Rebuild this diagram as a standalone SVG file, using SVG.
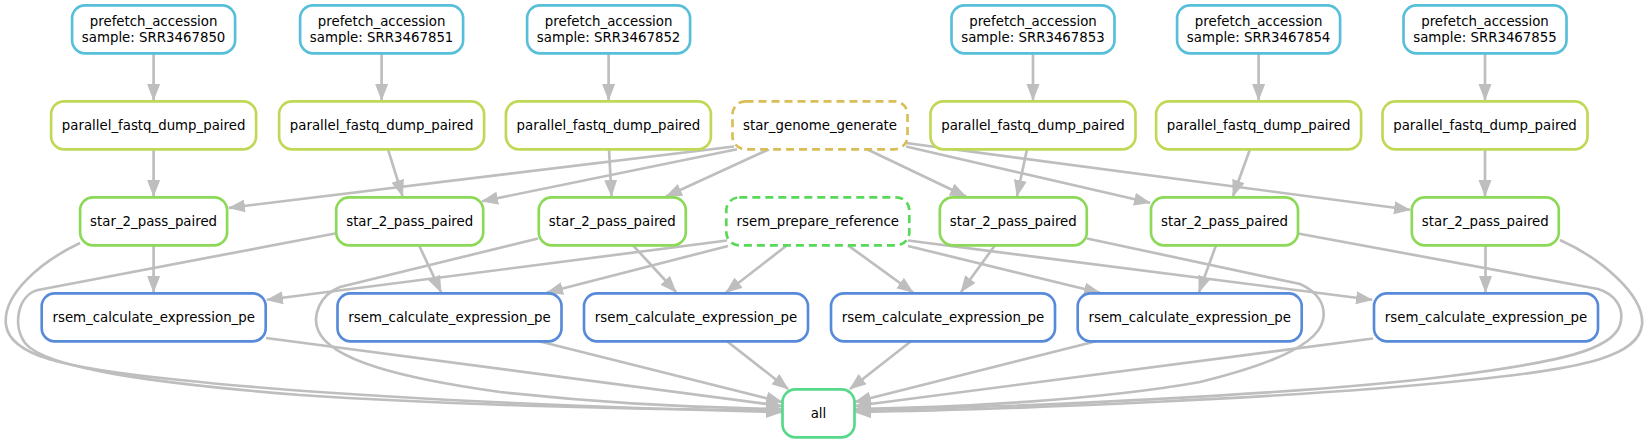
<svg xmlns="http://www.w3.org/2000/svg" width="1648" height="443" viewBox="0 0 1648 443">
<style>
.n rect{fill:#fff;stroke-width:2.67}
.n text{font-family:"DejaVu Sans","Liberation Sans",sans-serif;font-size:13.33px;fill:#000;text-anchor:middle}
.pf rect{stroke:#57BFD9}
.pd rect{stroke:#BFD957}
.sg rect{stroke:#D9BE57;stroke-dasharray:8,5}
.sp rect{stroke:#8BD957}
.rp rect{stroke:#57D957;stroke-dasharray:8,5}
.rc rect{stroke:#578BD9}
.al rect{stroke:#57D98B}
#edges path{fill:none;stroke:#bebebe;stroke-width:2.67;marker-end:url(#ah)}
</style>
<defs>
<marker id="ah" markerUnits="userSpaceOnUse" markerWidth="20" markerHeight="16" refX="16" refY="6.5" orient="auto">
<path d="M0,0 L17,6.5 L0,13 z" fill="#bebebe"/>
</marker>
</defs>
<rect width="1648" height="443" fill="#fff"/>
<g id="edges">
<!-- prefetch -> parallel -->
<path d="M153.6,53.3 L153.6,100"/>
<path d="M381.6,53.3 L381.6,100"/>
<path d="M608.6,53.3 L608.6,100"/>
<path d="M1033,53.3 L1033,100"/>
<path d="M1258.6,53.3 L1258.6,100"/>
<path d="M1485,53.3 L1485,100"/>
<!-- parallel -> star -->
<path d="M153.6,149.3 L153.6,196"/>
<path d="M388,149.3 L402.5,196"/>
<path d="M609,149.3 L611.5,196"/>
<path d="M1027,149.3 L1017,196"/>
<path d="M1250,149.3 L1233,196"/>
<path d="M1485,149.3 L1485,196"/>
<!-- star_genome -> star -->
<path d="M734,146.5 L229,207.8"/>
<path d="M737,149.3 L482,201.3"/>
<path d="M769,149.3 L666,196.5"/>
<path d="M867,149.3 L966,196.5"/>
<path d="M906,146.5 L1150,202.8"/>
<path d="M906,143 L1410,209.8"/>
<!-- star -> rsem_calc -->
<path d="M153.6,245.3 L153.6,292"/>
<path d="M419,245.3 L441,292"/>
<path d="M633,245.3 L676,292"/>
<path d="M995,245.3 L961,292"/>
<path d="M1216,245.3 L1199,292"/>
<path d="M1485.5,245.3 L1485.5,292"/>
<!-- rsem_prepare -> rsem_calc -->
<path d="M727,240.5 L267,299.8"/>
<path d="M728,246 L547,292.5"/>
<path d="M787,245.3 L726,292.5"/>
<path d="M848,245.3 L913,292.5"/>
<path d="M908,246 L1100,292.8"/>
<path d="M908,240.5 L1372,299.8"/>
<!-- rsem_calc -> all -->
<path d="M266,338 L782,406"/>
<path d="M539,341.3 L782,402"/>
<path d="M727,341.3 L788,389"/>
<path d="M911,341.3 L850,389"/>
<path d="M1096,341.3 L855,402"/>
<path d="M1373,338.5 L855,406"/>
<!-- star -> all (curves) -->
<path d="M80,243 C40,262 2,295 6,325 C10,355 60,368 180,380 C350,398 600,408 782,412"/>
<path d="M335,233.5 L38,290 C18,295 12,325 25,343 C45,368 150,383 300,395 C450,405 650,410 782,410"/>
<path d="M538,238.5 L340,287 C320,295 312,315 318,330 C330,360 400,378 500,392 C600,403 700,408 782,409"/>
<path d="M1087,238.5 L1300,284 C1318,292 1326,305 1323,320 C1318,345 1270,365 1200,382 C1100,400 950,408 855,409"/>
<path d="M1298,233.5 L1598,289 C1615,294 1625,308 1620,325 C1612,350 1560,362 1450,376 C1300,395 1000,408 855,410"/>
<path d="M1560,240 C1600,258 1645,295 1642,325 C1638,355 1590,368 1470,380 C1300,398 1000,410 855,412"/>
</g>
<g id="prefetch_1" class="n pf"><rect x="72.1" y="5.3" width="163" height="48" rx="13"/><text x="153.6" y="26">prefetch_accession</text><text x="153.6" y="42">sample: SRR3467850</text></g>
<g id="prefetch_2" class="n pf"><rect x="300.1" y="5.3" width="163" height="48" rx="13"/><text x="381.6" y="26">prefetch_accession</text><text x="381.6" y="42">sample: SRR3467851</text></g>
<g id="prefetch_3" class="n pf"><rect x="527.1" y="5.3" width="163" height="48" rx="13"/><text x="608.6" y="26">prefetch_accession</text><text x="608.6" y="42">sample: SRR3467852</text></g>
<g id="prefetch_4" class="n pf"><rect x="951.5" y="5.3" width="163" height="48" rx="13"/><text x="1033" y="26">prefetch_accession</text><text x="1033" y="42">sample: SRR3467853</text></g>
<g id="prefetch_5" class="n pf"><rect x="1177.1" y="5.3" width="163" height="48" rx="13"/><text x="1258.6" y="26">prefetch_accession</text><text x="1258.6" y="42">sample: SRR3467854</text></g>
<g id="prefetch_6" class="n pf"><rect x="1403.5" y="5.3" width="163" height="48" rx="13"/><text x="1485" y="26">prefetch_accession</text><text x="1485" y="42">sample: SRR3467855</text></g>
<g id="parallel_1" class="n pd"><rect x="51.1" y="101.3" width="205" height="48" rx="13"/><text x="153.6" y="129.9">parallel_fastq_dump_paired</text></g>
<g id="parallel_2" class="n pd"><rect x="279.1" y="101.3" width="205" height="48" rx="13"/><text x="381.6" y="129.9">parallel_fastq_dump_paired</text></g>
<g id="parallel_3" class="n pd"><rect x="505.9" y="101.3" width="205" height="48" rx="13"/><text x="608.4" y="129.9">parallel_fastq_dump_paired</text></g>
<g id="star_genome_generate" class="n sg"><rect x="732.5" y="101.3" width="175" height="48" rx="13"/><text x="820" y="129.9">star_genome_generate</text></g>
<g id="parallel_4" class="n pd"><rect x="930.5" y="101.3" width="205" height="48" rx="13"/><text x="1033" y="129.9">parallel_fastq_dump_paired</text></g>
<g id="parallel_5" class="n pd"><rect x="1156.1" y="101.3" width="205" height="48" rx="13"/><text x="1258.6" y="129.9">parallel_fastq_dump_paired</text></g>
<g id="parallel_6" class="n pd"><rect x="1382.5" y="101.3" width="205" height="48" rx="13"/><text x="1485" y="129.9">parallel_fastq_dump_paired</text></g>
<g id="star_1" class="n sp"><rect x="80.1" y="197.3" width="147" height="48" rx="13"/><text x="153.6" y="225.9">star_2_pass_paired</text></g>
<g id="star_2" class="n sp"><rect x="336.2" y="197.3" width="147" height="48" rx="13"/><text x="409.7" y="225.9">star_2_pass_paired</text></g>
<g id="star_3" class="n sp"><rect x="538.8" y="197.3" width="147" height="48" rx="13"/><text x="612.3" y="225.9">star_2_pass_paired</text></g>
<g id="rsem_prepare_reference" class="n rp"><rect x="726.3" y="197.3" width="183" height="48" rx="13"/><text x="817.8" y="225.9">rsem_prepare_reference</text></g>
<g id="star_4" class="n sp"><rect x="939.8" y="197.3" width="147" height="48" rx="13"/><text x="1013.3" y="225.9">star_2_pass_paired</text></g>
<g id="star_5" class="n sp"><rect x="1151" y="197.3" width="147" height="48" rx="13"/><text x="1224.5" y="225.9">star_2_pass_paired</text></g>
<g id="star_6" class="n sp"><rect x="1411.8" y="197.3" width="147" height="48" rx="13"/><text x="1485.3" y="225.9">star_2_pass_paired</text></g>
<g id="rsem_1" class="n rc"><rect x="41.7" y="293.3" width="224" height="48" rx="13"/><text x="153.7" y="321.9">rsem_calculate_expression_pe</text></g>
<g id="rsem_2" class="n rc"><rect x="337.5" y="293.3" width="224" height="48" rx="13"/><text x="449.5" y="321.9">rsem_calculate_expression_pe</text></g>
<g id="rsem_3" class="n rc"><rect x="584" y="293.3" width="224" height="48" rx="13"/><text x="696" y="321.9">rsem_calculate_expression_pe</text></g>
<g id="rsem_4" class="n rc"><rect x="831" y="293.3" width="224" height="48" rx="13"/><text x="943" y="321.9">rsem_calculate_expression_pe</text></g>
<g id="rsem_5" class="n rc"><rect x="1077.7" y="293.3" width="224" height="48" rx="13"/><text x="1189.7" y="321.9">rsem_calculate_expression_pe</text></g>
<g id="rsem_6" class="n rc"><rect x="1374" y="293.3" width="224" height="48" rx="13"/><text x="1486" y="321.9">rsem_calculate_expression_pe</text></g>
<g id="all" class="n al"><rect x="782.5" y="389.3" width="72" height="48" rx="13"/><text x="818.5" y="417.9">all</text></g>
</svg>
